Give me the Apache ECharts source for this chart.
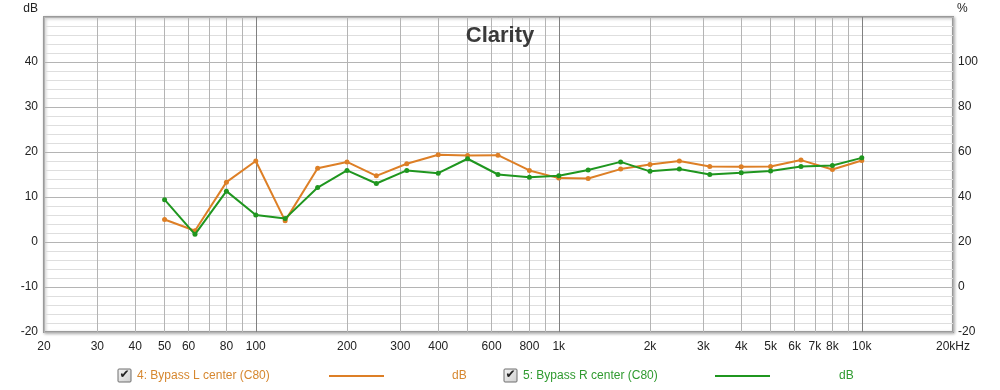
<!DOCTYPE html>
<html>
<head>
<meta charset="utf-8">
<script src="https://cdn.jsdelivr.net/npm/echarts@6/dist/echarts.min.js"></script>
<style>html,body{margin:0;padding:0;background:#fff}#c{width:1000px;height:390px}</style>
</head>
<body>
<div id="c"></div>
<script>
const freqs = [50,63,80,100,125,160,200,250,315,400,500,630,800,1000,1250,1600,2000,2500,3150,4000,5000,6300,8000,10000];
const bypassL = [5.0,2.5,13.3,18.0,4.7,16.4,17.8,14.7,17.4,19.4,19.2,19.3,15.9,14.2,14.1,16.2,17.2,18.0,16.8,16.7,16.8,18.2,16.1,18.1];
const bypassR = [9.4,1.7,11.3,6.0,5.2,12.1,15.9,13.0,15.9,15.3,18.5,15.0,14.4,14.7,16.0,17.8,15.7,16.2,15.0,15.4,15.8,16.8,17.0,18.7];
const xLabelValues = [20,30,40,50,60,80,100,200,300,400,600,800,1000,2000,3000,4000,5000,6000,7000,8000,10000,20000];
const xGridValues = [20,30,40,50,60,70,80,90,100,200,300,400,500,600,700,800,900,1000,2000,3000,4000,5000,6000,7000,8000,9000,10000,20000];
const seriesNames = ['4: Bypass L center (C80)','5: Bypass R center (C80)'];
const colors = ['#dd7f26','#1f961f'];
const legendColors = ['#d6872f','#2f9a2f'];

const chart = echarts.init(document.getElementById('c'), null, {renderer:'canvas'});
const FONT = 'Liberation Sans, Arial, sans-serif';
const light = '#b4b4b4', dark = '#808080';
function legendItem(i, x0, lineX, dbX){
  return [
    {type:'rect', shape:{x:x0, y:369, width:13, height:13, r:1}, style:{fill:new echarts.graphic.LinearGradient(0,0,1,1,[{offset:0,color:'#f4f4f4'},{offset:1,color:'#cfcfcf'}]), stroke:'#6f6f6f', lineWidth:1}},
    {type:'text', x:x0+1.5, y:369, style:{text:'✔', fill:'#222', font:'bold 12px DejaVu Sans'}},
    {type:'text', x:x0+19, y:376, style:{text:seriesNames[i], fill:legendColors[i], font:'12px '+FONT, verticalAlign:'middle'}},
    {type:'line', shape:{x1:lineX, y1:376, x2:lineX+55, y2:376}, style:{stroke:colors[i], lineWidth:2}},
    {type:'text', x:dbX, y:376, style:{text:'dB', fill:legendColors[i], font:'12px '+FONT, verticalAlign:'middle'}}
  ];
}
const option = {
  animation:false,
  backgroundColor:'#fff',
  title:{text:'Clarity', left:'center', top:20, textStyle:{fontFamily:FONT, fontSize:22, fontWeight:'bold', color:'#3a3a3a'}},
  grid:{left:44, right:47, top:17, bottom:58, show:true, backgroundColor:'#fff', borderColor:'#9a9a9a', borderWidth:2, shadowColor:'rgba(0,0,0,0.25)', shadowBlur:3, shadowOffsetX:1, shadowOffsetY:1},
  xAxis:{type:'log', logBase:10, min:20, max:20000,
    axisLine:{show:false}, axisTick:{show:false, customValues:xGridValues},
    axisLabel:{customValues:xLabelValues, color:'#222', fontSize:12, fontFamily:FONT, margin:9,
      formatter:v=> v===20000 ? '20kHz' : (v>=1000 ? (v/1000)+'k' : String(v))},
    splitLine:{show:true, lineStyle:{color:[light,light,light,light,light,light,light,light,dark], width:1}}
  },
  yAxis:[
    {type:'value', min:-20, max:50, interval:10, position:'left',
      axisLine:{show:false}, axisTick:{show:false}, minorTick:{show:false, splitNumber:5},
      axisLabel:{color:'#222', fontSize:12, fontFamily:FONT, margin:6, formatter:v=> v===50 ? '' : String(v)},
      splitLine:{show:true, lineStyle:{color:'#b4b4b4'}},
      minorSplitLine:{show:true, lineStyle:{color:'#dedede'}}},
    {type:'value', min:-20, max:120, interval:20, position:'right',
      axisLine:{show:false}, axisTick:{show:false},
      axisLabel:{color:'#222', fontSize:12, fontFamily:FONT, margin:5, formatter:v=> v===120 ? '' : String(v)},
      splitLine:{show:false}}
  ],
  series:[bypassL, bypassR].map((arr,i)=>({
    name:seriesNames[i], type:'line', yAxisIndex:0,
    data:freqs.map((f,k)=>[f,arr[k]]),
    symbol:'circle', symbolSize:5, showSymbol:true,
    lineStyle:{color:colors[i], width:2}, itemStyle:{color:colors[i]},
    z:2+i
  })),
  graphic:[
    {type:'text', x:38, y:9, style:{text:'dB', fill:'#222', font:'12px '+FONT, align:'right', verticalAlign:'middle'}},
    {type:'text', x:957, y:9, style:{text:'%', fill:'#222', font:'12px '+FONT, verticalAlign:'middle'}},
    ...legendItem(0,118,329,452),
    ...legendItem(1,504,715,839)
  ]
};
chart.setOption(option);
</script>
</body>
</html>
